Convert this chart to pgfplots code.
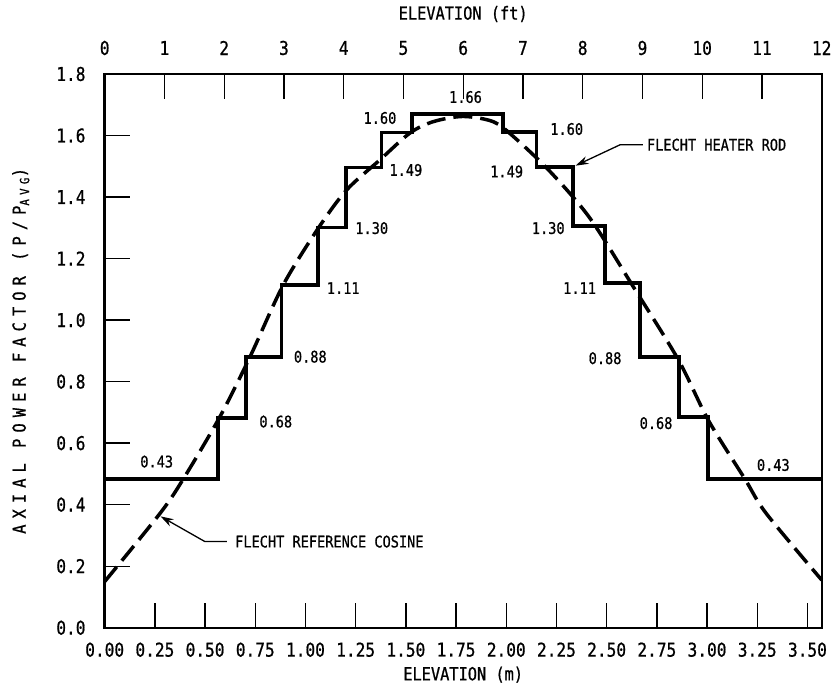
\documentclass[border=0pt]{standalone}
\usepackage{fontspec}
\setmainfont{DejaVu Sans Mono}[FakeStretch=0.85, FakeBold=0.8]
\usepackage{pgfplots}
\pgfplotsset{compat=1.18}
\usetikzlibrary{arrows.meta}

\newcommand{\tickfont}{\fontsize{19}{20}\selectfont}
\newcommand{\labfont}{\fontsize{18}{19}\selectfont}
\newcommand{\valfont}{\fontsize{16}{17}\selectfont}

\begin{document}
\begin{tikzpicture}
\begin{axis}[name=ax, scale only axis, width=717pt, height=553.7pt,
  xmin=0, xmax=3.571, ymin=0, ymax=1.8,
  axis line style={line width=2.4pt},
  xtick={0,0.25,...,3.5}, ytick={0,0.2,...,1.8},
  xtick pos=bottom, ytick pos=left,
  tick align=inside, major tick length=25pt,
  every tick/.style={line width=1.3pt, black},
  /pgf/number format/assume math mode=true,
  xticklabel style={font=\tickfont, anchor=center, inner sep=0pt, yshift=-22pt,
    /pgf/number format/.cd, fixed, fixed zerofill, precision=2},
  yticklabel style={font=\tickfont, anchor=east, inner sep=0pt, xshift=-19pt,
    /pgf/number format/.cd, fixed, fixed zerofill, precision=1},
  clip=false]

% FLECHT heater rod (stepped axial power shape)
\addplot[black, line width=3.8pt, const plot, line join=miter] coordinates {
  (0.000,0.483) (0.566,0.681) (0.705,0.881) (0.881,1.114) (1.064,1.301)
  (1.202,1.496) (1.379,1.610) (1.529,1.670) (1.984,1.611) (2.151,1.497)
  (2.334,1.306) (2.492,1.120) (2.666,0.879) (2.862,0.686) (3.006,0.483)
  (3.571,0.483)};

% FLECHT reference cosine
\addplot[black, line width=3.5pt, smooth, tension=0.5, dash pattern=on 19pt off 8pt] coordinates {
  (0.000,0.150) (0.276,0.372) (0.391,0.483) (0.574,0.686) (0.724,0.881)
  (0.889,1.114) (1.064,1.299) (1.205,1.423) (1.371,1.521) (1.520,1.608)
  (1.636,1.645) (1.785,1.662) (1.935,1.645) (2.035,1.597) (2.218,1.483)
  (2.417,1.331) (2.632,1.109) (2.857,0.871) (3.006,0.675) (3.189,0.483)
  (3.294,0.372) (3.571,0.155)};

% value labels
\node[font=\valfont] at (axis cs:0.259,0.540) {0.43};
\node[font=\valfont] at (axis cs:0.852,0.670) {0.68};
\node[font=\valfont] at (axis cs:1.024,0.881) {0.88};
\node[font=\valfont] at (axis cs:1.188,1.104) {1.11};
\node[font=\valfont] at (axis cs:1.330,1.299) {1.30};
\node[font=\valfont] at (axis cs:1.500,1.488) {1.49};
\node[font=\valfont] at (axis cs:1.371,1.657) {1.60};
\node[font=\valfont] at (axis cs:1.797,1.725) {1.66};
\node[font=\valfont] at (axis cs:2.301,1.621) {1.60};
\node[font=\valfont] at (axis cs:2.002,1.483) {1.49};
\node[font=\valfont] at (axis cs:2.209,1.299) {1.30};
\node[font=\valfont] at (axis cs:2.365,1.104) {1.11};
\node[font=\valfont] at (axis cs:2.492,0.876) {0.88};
\node[font=\valfont] at (axis cs:2.746,0.665) {0.68};
\node[font=\valfont] at (axis cs:3.330,0.529) {0.43};

% annotations
\draw[line width=1.3pt, -{Stealth[length=13pt,width=8pt]}]
  (axis cs:2.680,1.570) -- (axis cs:2.567,1.570) -- (axis cs:2.345,1.502);
\node[font=\valfont, anchor=west, inner sep=0pt] at (axis cs:2.700,1.570) {FLECHT HEATER ROD};
\draw[line width=1.3pt, -{Stealth[length=13pt,width=8pt]}]
  (axis cs:0.608,0.280) -- (axis cs:0.499,0.280) -- (axis cs:0.278,0.362);
\node[font=\valfont, anchor=west, inner sep=0pt] at (axis cs:0.649,0.280) {FLECHT REFERENCE COSINE};
\end{axis}

\begin{axis}[scale only axis, width=717pt, height=553.7pt,
  xmin=0, xmax=12, ymin=0, ymax=1.8,
  axis x line*=top, axis y line=none,
  axis line style={line width=2.4pt},
  xtick={0,1,...,12}, ytick=\empty,
  tick align=inside, major tick length=25pt,
  every tick/.style={line width=1.3pt, black},
  /pgf/number format/assume math mode=true,
  xticklabel style={font=\tickfont, anchor=center, inner sep=0pt, yshift=26pt}]
\end{axis}

\node[font=\labfont] at ([yshift=-47pt]ax.south) {ELEVATION (m)};
\node[font=\labfont] at ([yshift=60pt]ax.north) {ELEVATION (ft)};
\node[font=\labfont, rotate=90] at ([xshift=-84pt]ax.west)
  {\addfontfeatures{LetterSpace=34}AXIAL POWER FACTOR (P/P\textsubscript{AVG})};

\pgfresetboundingbox
\path ([shift={(-104.7pt,-58.3pt)}]ax.south west) rectangle ([shift={(11.3pt,74pt)}]ax.north east);
\end{tikzpicture}
\end{document}
